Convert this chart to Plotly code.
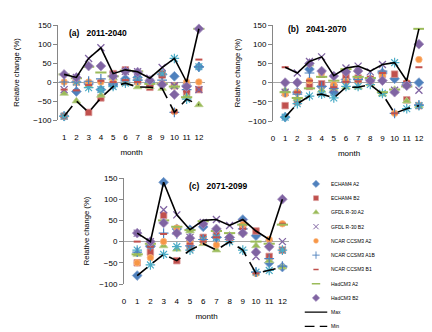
import plotly.graph_objects as go

# ---------------- data ----------------
months = list(range(1, 13))
series_names = ["ECHAM4 A2", "ECHAM4 B2", "GFDL R-30 A2", "GFDL R-30 B2",
                "NCAR CCSM3 A2", "Unlabelled series", "NCAR CCSM3 A1B",
                "NCAR CCSM3 B1", "HadCM3 A2", "HadCM3 B2"]
show_in_legend = [True, True, True, True, True, False, True, True, True, True]
panel_titles = ["(a)   2011-2040", "(b)   2041-2070", "(c)   2071-2099"]
x_ticks_a = list(range(1, 13))
x_ticks_bc = list(range(0, 13))
y_ticks = [-100, -50, 0, 50, 100, 150]

# (a) 2011-2040
a_echam4_a2 = [-90, -25, -5, -20, -8, 8, 12, 0, 20, 15, -10, 40]
a_echam4_b2 = [-90, 0, -80, -42, 22, 32, 2, -14, 22, -10, -27, -20]
a_gfdl_a2 = [-30, -50, -10, -35, 10, -3, -13, -12, -17, -12, -38, -60]
a_gfdl_b2 = [-20, 12, 62, 90, 18, 28, 27, 10, 38, -10, -12, -20]
a_ncar_a2 = [0, 0, 0, 0, 0, 0, 0, 0, -3, -78, 0, 0]
a_star = [-90, 0, -15, -20, -12, -3, 5, 0, 21, 62, -45, 40]
a_ncar_a1b = [0, 0, 2, 8, -5, 3, 5, 0, 5, -80, -20, 40]
a_ncar_b1 = [-20, -22, -8, 3, 0, 5, 0, -10, 12, -80, -25, 59]
a_hadcm3_a2 = [20, 10, 40, 25, 15, 30, 28, -5, -5, -12, -40, 140]
a_hadcm3_b2 = [20, 12, 42, 42, 15, 28, 26, 4, -7, -33, -12, 140]
a_max = [20, 12, 62, 90, 22, 32, 27, 10, 38, 62, 0, 140]
a_min = [-90, -50, -80, -42, -12, -3, -13, -14, -17, -80, -45, -60]

# (b) 2041-2070
b_echam4_a2 = [-90, -25, 35, -10, -25, 8, 10, 8, 25, 10, -5, 0]
b_echam4_b2 = [-60, -50, -10, -3, -12, 18, 12, 5, 22, 22, -45, -60]
b_gfdl_a2 = [-20, -42, 48, -20, -15, -12, -12, -3, -30, -18, -48, -60]
b_gfdl_b2 = [-25, 25, 55, 67, -15, 38, 43, 28, 47, -20, -5, -20]
b_ncar_a2 = [-30, -25, 5, 25, -5, 3, 5, 10, 20, -80, 0, 60]
b_star = [-90, -55, -35, -30, -40, -10, -10, -5, -28, 52, -68, -60]
b_ncar_a1b = [-25, -30, 25, -10, -15, 2, 8, 12, 30, -80, 0, -58]
b_ncar_b1 = [40, -25, 5, 15, -12, 2, 3, 15, 25, -80, 3, 40]
b_hadcm3_a2 = [-25, -40, -15, 15, 5, 35, 15, 12, -25, -18, -10, 140]
b_hadcm3_b2 = [0, 0, 50, 30, 17, 28, 30, 5, 5, -25, -8, 100]
b_max = [40, 25, 55, 67, 18, 38, 43, 30, 47, 52, 5, 140]
b_min = [-90, -55, -35, -30, -40, -12, -12, -5, -30, -80, -68, -60]

# (c) 2071-2099
c_echam4_a2 = [-80, -12, 140, 30, 28, 35, 10, 10, 52, 14, -50, -60]
c_echam4_b2 = [-50, -25, 62, -45, -15, 10, 15, 5, 35, 25, -35, -20]
c_gfdl_a2 = [-30, -5, -10, -18, 25, -5, -20, 15, 20, -10, -45, -60]
c_gfdl_b2 = [20, 0, 75, 63, 10, 45, 52, 38, 45, -35, -5, 0]
c_ncar_a2 = [-50, -38, 0, 32, 0, 0, -8, 2, 40, -75, 5, 42]
c_star = [-20, -55, -30, -12, -20, 5, 10, 0, -20, -72, -68, -20]
c_ncar_a1b = [-25, -10, 20, 18, -10, 5, 10, 5, 30, -72, -40, -58]
c_ncar_b1 = [0, -12, 18, 18, -5, 0, 10, 5, 30, -75, -10, 42]
c_hadcm3_a2 = [-30, -5, 50, 35, 27, 48, 25, 20, 40, 0, -5, 40]
c_hadcm3_b2 = [20, 0, 44, 20, 8, 42, 30, 10, 20, -25, -12, 100]
c_max = [20, 0, 140, 63, 28, 50, 52, 38, 52, 25, 5, 100]
c_min = [-80, -55, -30, -45, -20, -5, -20, 0, -20, -75, -68, -60]

panel_series = [
    [a_echam4_a2, a_echam4_b2, a_gfdl_a2, a_gfdl_b2, a_ncar_a2, a_star,
     a_ncar_a1b, a_ncar_b1, a_hadcm3_a2, a_hadcm3_b2],
    [b_echam4_a2, b_echam4_b2, b_gfdl_a2, b_gfdl_b2, b_ncar_a2, b_star,
     b_ncar_a1b, b_ncar_b1, b_hadcm3_a2, b_hadcm3_b2],
    [c_echam4_a2, c_echam4_b2, c_gfdl_a2, c_gfdl_b2, c_ncar_a2, c_star,
     c_ncar_a1b, c_ncar_b1, c_hadcm3_a2, c_hadcm3_b2],
]
panel_max = [a_max, b_max, c_max]
panel_min = [a_min, b_min, c_min]

# ---------------- styles ----------------
FONT = "Liberation Sans, Arial, sans-serif"
marker_styles = [
    dict(symbol="diamond", size=7.5, color="#4F81BD", line=dict(color="#7DA0CE", width=0.8)),
    dict(symbol="square", size=6.5, color="#C0504D", line=dict(color="#D99694", width=0.8)),
    dict(symbol="triangle-up", size=7.5, color="#9BBB59", line=dict(color="#B9CF8B", width=0.8)),
    dict(symbol="x-thin-open", size=7, color="#8064A2", line=dict(color="#8064A2", width=1.3)),
    dict(symbol="circle", size=6.5, color="#F79646", line=dict(color="#FAB884", width=0.8)),
    dict(symbol="asterisk-open", size=8, color="#4BACC6", line=dict(color="#4BACC6", width=1.2)),
    dict(symbol="cross-thin-open", size=7, color="#4F81BD", line=dict(color="#4F81BD", width=1.2)),
    dict(symbol="line-ew-open", size=5, color="#C0504D", line=dict(color="#C0504D", width=2)),
    dict(symbol="line-ew-open", size=8, color="#9BBB59", line=dict(color="#9BBB59", width=2)),
    dict(symbol="diamond", size=7.5, color="#8064A2", line=dict(color="#A48FBF", width=0.8)),
]

# The page body has an 8px default margin; the figure fills the rest.
OFF = 8
W, H = 432 - OFF, 332 - OFF
# pixel geometry of the three plot areas in the 432x332 frame (left, right, top, bottom)
boxes = [(58, 205, 25, 120), (273, 425, 25, 121), (124, 289, 178, 284)]
x_ranges = [[0.5, 12.5], [0, 12.5], [0, 12.5]]
x_tickvals = [x_ticks_a, x_ticks_bc, x_ticks_bc]
title_pos = [(67, 33), (286, 29), (187, 186)]
ytitle_standoff = [12, 6, 8]

fig = go.Figure()

for p in range(3):
    xa = "x" if p == 0 else f"x{p+1}"
    ya = "y" if p == 0 else f"y{p+1}"
    for i, vals in enumerate(panel_series[p]):
        st = marker_styles[i]
        fig.add_trace(go.Scatter(
            x=months, y=vals, mode="markers", name=series_names[i],
            legendgroup=series_names[i],
            showlegend=(p == 0 and show_in_legend[i]),
            marker=st, xaxis=xa, yaxis=ya, cliponaxis=False))
    fig.add_trace(go.Scatter(
        x=months, y=panel_max[p], mode="lines", name="Max", legendgroup="Max",
        showlegend=(p == 0), line=dict(color="black", width=1.6),
        xaxis=xa, yaxis=ya))
    fig.add_trace(go.Scatter(
        x=months, y=panel_min[p], mode="lines", name="Min", legendgroup="Min",
        showlegend=(p == 0), line=dict(color="black", width=1.6, dash="13px,7px"),
        xaxis=xa, yaxis=ya))

layout = dict(
    width=W, height=H,
    margin=dict(l=0, r=0, t=0, b=0, autoexpand=False),
    paper_bgcolor="white", plot_bgcolor="white",
    font=dict(family=FONT, size=8, color="black"),
    legend=dict(x=(301 - OFF) / W, y=1 - (173 - OFF) / H, xanchor="left", yanchor="top",
                bgcolor="rgba(0,0,0,0)", font=dict(size=6.7, family=FONT),
                traceorder="normal"),
    annotations=[],
)

for p in range(3):
    l, r, t, b = [v - OFF for v in boxes[p]]
    xk = "xaxis" if p == 0 else f"xaxis{p+1}"
    yk = "yaxis" if p == 0 else f"yaxis{p+1}"
    yname = "y" if p == 0 else f"y{p+1}"
    xname = "x" if p == 0 else f"x{p+1}"
    layout[xk] = dict(
        domain=[l / W, r / W], range=x_ranges[p], anchor=yname,
        tickvals=x_tickvals[p], ticktext=[str(v) for v in x_tickvals[p]],
        showline=False, showgrid=False, zeroline=False,
        ticks="outside", ticklen=9, tickcolor="rgba(0,0,0,0)",
        tickfont=dict(size=8), automargin=False,
        title=dict(text="month", font=dict(size=8), standoff=8),
    )
    layout[yk] = dict(
        domain=[1 - b / H, 1 - t / H], range=[-100, 150], anchor=xname,
        tickvals=y_ticks, showline=True, linecolor="#868686", linewidth=1,
        ticks="outside", ticklen=4, tickcolor="#868686",
        showgrid=False, zeroline=True, zerolinecolor="#A6A6A6", zerolinewidth=1,
        tickfont=dict(size=8), automargin=False,
        title=dict(text="Relative change (%)", font=dict(size=7.6),
                   standoff=ytitle_standoff[p]),
    )
    tx, ty = title_pos[p]
    layout["annotations"].append(dict(
        text="<b>" + panel_titles[p] + "</b>", xref="paper", yref="paper",
        x=(tx - OFF) / W, y=1 - (ty - OFF) / H, xanchor="left", yanchor="middle",
        showarrow=False, font=dict(size=8.5, family=FONT)))

fig.update_layout(**layout)

post = """
var gd = document.getElementById('{plot_id}');
var lg = gd.querySelector('g.legend');
if (lg) {
  var L = gd._fullLayout;
  var lx = L.legend.x * L.width;
  var ly = (1 - L.legend.y) * L.height;
  lg.setAttribute('transform', 'translate(' + lx + ',' + ly + ') scale(0.75)');
}
"""
fig.write_html("out.html", post_script=post)
